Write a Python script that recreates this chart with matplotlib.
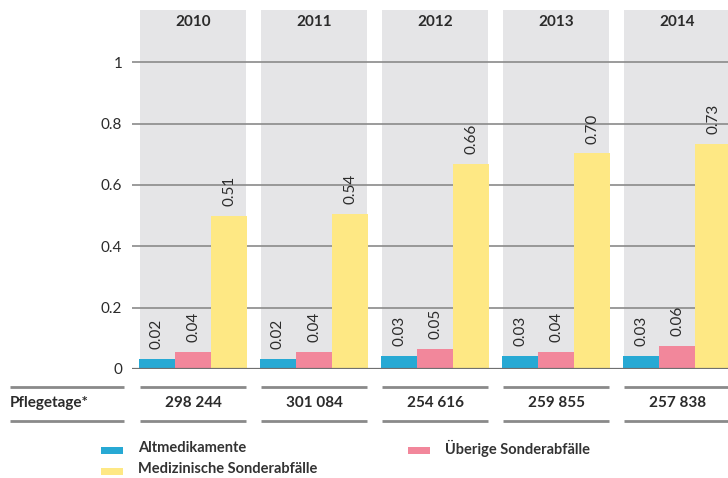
import matplotlib
matplotlib.use('Agg')
import matplotlib.pyplot as plt
import numpy as np

years = ['2010', '2011', '2012', '2013', '2014']
pflegetage = ['298 244', '301 084', '254 616', '259 855', '257 838']

# bar heights as drawn in the picture, labels as printed
alt = [0.033, 0.033, 0.042, 0.042, 0.042]
uebrige = [0.055, 0.055, 0.065, 0.055, 0.075]
medizin = [0.498, 0.505, 0.668, 0.703, 0.733]
alt_lbl = ['0.02', '0.02', '0.03', '0.03', '0.03']
uebrige_lbl = ['0.04', '0.04', '0.05', '0.04', '0.06']
medizin_lbl = ['0.51', '0.54', '0.66', '0.70', '0.73']

series_names = ['Altmedikamente', 'Überige Sonderabfälle', 'Medizinische Sonderabfälle']
colors = ['#27a9d4', '#f2879b', '#fee884']

plt.rcParams['font.family'] = ['Lato', 'DejaVu Sans']
TXT = '#2b2b2b'
LINE = '#8a8a8a'

W, H = 728, 478
fig = plt.figure(figsize=(W / 100, H / 100), dpi=100)
ax = fig.add_axes([132 / W, (H - 369) / H, (W - 132) / W, 359 / H])

x = np.arange(len(years))
bw = 0.298
ax.set_xlim(-0.504, 4.42)
ax.set_ylim(0, 1.17)

for i in x:
    ax.axvspan(i - 0.44, i + 0.44, color='#e5e5e7', zorder=0, lw=0)
    ax.text(i, 1.13, years[i], ha='center', va='center', fontsize=11,
            fontweight='bold', color=TXT)

for yv in [0.2, 0.4, 0.6, 0.8, 1.0]:
    ax.axhline(yv, color=LINE, lw=1.2, zorder=1)
ax.axhline(0, color='#707070', lw=1.6, zorder=3)

data = [alt, uebrige, medizin]
labels = [alt_lbl, uebrige_lbl, medizin_lbl]
for k in range(3):
    pos = x + (k - 1) * bw
    ax.bar(pos, data[k], width=bw, color=colors[k], zorder=2, lw=0)
    for p, v, t in zip(pos, data[k], labels[k]):
        ax.annotate(t, (p, v), xytext=(0, 7), textcoords='offset points',
                    rotation=90, ha='center', va='bottom', fontsize=11,
                    color=TXT)

ax.set_yticks([0, 0.2, 0.4, 0.6, 0.8, 1.0])
ax.set_yticklabels(['0', '0.2', '0.4', '0.6', '0.8', '1'])
ax.tick_params(axis='y', length=0, pad=7, labelsize=11, labelcolor=TXT)
ax.set_xticks([])
for s in ax.spines.values():
    s.set_visible(False)

# table row below the axis
tr = ax.get_xaxis_transform()
y_top = (369 - 387) / 359
y_bot = (369 - 421) / 359
y_mid = (369 - 403) / 359
for y_l in [y_top, y_bot]:
    ax.plot([-1.512, -0.57], [y_l, y_l], transform=tr, color=LINE, lw=2,
            clip_on=False, solid_capstyle='butt')
    for i in x:
        ax.plot([i - 0.44, i + 0.44], [y_l, y_l], transform=tr, color=LINE,
                lw=2, clip_on=False, solid_capstyle='butt')
ax.text(-1.512, y_mid, 'Pflegetage*', transform=tr, ha='left', va='center',
        fontsize=11, fontweight='bold', color=TXT)
for i in x:
    ax.text(i, y_mid, pflegetage[i], transform=tr, ha='center', va='center',
            fontsize=11, fontweight='bold', color=TXT)

# legend
legend_pos = [(101, 450), (408, 450), (101, 471)]
for (px, py), name, c in zip(legend_pos, series_names, colors):
    fig.patches.append(plt.Rectangle((px / W, 1 - (py + 3.5) / H), 22 / W, 7 / H,
                                     transform=fig.transFigure, color=c, lw=0))
    fig.text((px + 37) / W, 1 - (py - 2) / H, name, ha='left', va='center',
             fontsize=10.5, fontweight='bold', color='#333333')

fig.savefig('out.png', dpi=100)
